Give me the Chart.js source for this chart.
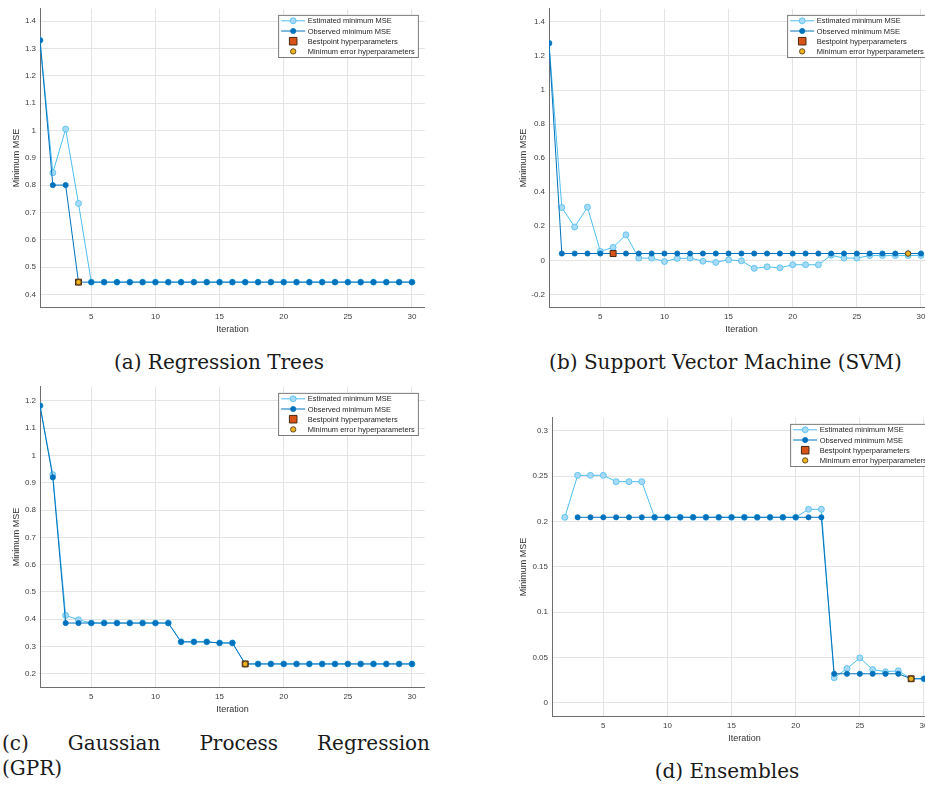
<!DOCTYPE html>
<html>
<head>
<meta charset="utf-8">
<script src="https://cdn.jsdelivr.net/npm/chart.js@4.4.0/dist/chart.umd.min.js"></script>
<style>
  html, body { margin: 0; padding: 0; background: #fff; overflow: hidden; width: 925px; height: 787px; }
  canvas { position: absolute; }
  .cap { position: absolute; font-family: 'DejaVu Serif', serif; font-size: 20px; line-height: 25px; color: #1a1a1a; white-space: nowrap; }
  .just { text-align: justify; text-align-last: justify; white-space: normal; }
</style>
</head>
<body>
<canvas id="treesChart" width="430" height="340" style="left:0px;top:0px"></canvas>
<canvas id="svmChart" width="430" height="340" style="left:509px;top:0px"></canvas>
<canvas id="gprChart" width="430" height="342" style="left:0px;top:378px"></canvas>
<canvas id="ensChart" width="430" height="340" style="left:512px;top:409px"></canvas>

<div class="cap" style="left:0px;top:350px;width:438px;text-align:center">(a) Regression Trees</div>
<div class="cap" style="left:500px;top:350px;width:451px;text-align:center">(b) Support Vector Machine (SVM)</div>
<div class="cap just" style="left:2px;top:731px;width:428px">(c) Gaussian Process Regression</div>
<div class="cap" style="left:2px;top:756px">(GPR)</div>
<div class="cap" style="left:577px;top:759px;width:300px;text-align:center">(d) Ensembles</div>

<script>
// iterations of the optimisation run
const iterations = [1, 2, 3, 4, 5, 6, 7, 8, 9, 10, 11, 12, 13, 14, 15, 16, 17, 18, 19, 20, 21, 22, 23, 24, 25, 26, 27, 28, 29, 30];
const xTicks = [5, 10, 15, 20, 25, 30];

// (a) regression trees
const treesEstimated = [1.33, 0.845, 1.005, 0.733, 0.445, 0.445, 0.445, 0.445, 0.445, 0.445, 0.445, 0.445, 0.445, 0.445, 0.445,
  0.445, 0.445, 0.445, 0.445, 0.445, 0.445, 0.445, 0.445, 0.445, 0.445, 0.445, 0.445, 0.445, 0.445, 0.445];
const treesObserved = [1.33, 0.80, 0.80, 0.445, 0.445, 0.445, 0.445, 0.445, 0.445, 0.445, 0.445, 0.445, 0.445, 0.445, 0.445,
  0.445, 0.445, 0.445, 0.445, 0.445, 0.445, 0.445, 0.445, 0.445, 0.445, 0.445, 0.445, 0.445, 0.445, 0.445];
const treesBestIter = 4;
const treesMinErrIter = 4;
const treesTicks = [0.4, 0.5, 0.6, 0.7, 0.8, 0.9, 1, 1.1, 1.2, 1.3, 1.4];

// (b) SVM
const svmEstimated = [1.275, 0.31, 0.196, 0.312, 0.053, 0.076, 0.15, 0.013, 0.013, -0.007, 0.011, 0.013, -0.005, -0.012, 0.003,
  -0.003, -0.047, -0.038, -0.044, -0.026, -0.026, -0.026, 0.03, 0.013, 0.013, 0.028, 0.028, 0.028, 0.028, 0.029];
const svmObserved = [1.275, 0.04, 0.04, 0.04, 0.04, 0.04, 0.04, 0.04, 0.04, 0.04, 0.04, 0.04, 0.04, 0.04, 0.04,
  0.04, 0.04, 0.04, 0.04, 0.04, 0.04, 0.04, 0.04, 0.04, 0.04, 0.04, 0.04, 0.04, 0.04, 0.04];
const svmBestIter = 6;
const svmMinErrIter = 29;
const svmTicks = [-0.2, 0, 0.2, 0.4, 0.6, 0.8, 1, 1.2, 1.4];

// (c) GPR
const gprEstimated = [1.183, 0.93, 0.414, 0.398, 0.386, 0.386, 0.386, 0.386, 0.386, 0.386, 0.386, 0.317, 0.317, 0.317, 0.313,
  0.313, 0.236, 0.236, 0.236, 0.236, 0.236, 0.236, 0.236, 0.236, 0.236, 0.236, 0.236, 0.236, 0.236, 0.236];
const gprObserved = [1.183, 0.92, 0.386, 0.386, 0.386, 0.386, 0.386, 0.386, 0.386, 0.386, 0.386, 0.317, 0.317, 0.317, 0.313,
  0.313, 0.236, 0.236, 0.236, 0.236, 0.236, 0.236, 0.236, 0.236, 0.236, 0.236, 0.236, 0.236, 0.236, 0.236];
const gprBestIter = 17;
const gprMinErrIter = 17;
const gprTicks = [0.2, 0.3, 0.4, 0.5, 0.6, 0.7, 0.8, 0.9, 1, 1.1, 1.2];

// (d) ensembles
const ensEstimated = [null, 0.2047, 0.251, 0.251, 0.251, 0.244, 0.244, 0.244, 0.2047, 0.2047, 0.2047, 0.2047, 0.2047, 0.2047, 0.2047,
  0.2047, 0.2047, 0.2047, 0.2047, 0.2047, 0.2135, 0.2135, 0.0276, 0.0378, 0.0495, 0.0367, 0.0342, 0.0353, 0.0265, 0.0265];
const ensObserved = [null, null, 0.2047, 0.2047, 0.2047, 0.2047, 0.2047, 0.2047, 0.2047, 0.2047, 0.2047, 0.2047, 0.2047, 0.2047, 0.2047,
  0.2047, 0.2047, 0.2047, 0.2047, 0.2047, 0.2047, 0.2047, 0.032, 0.032, 0.032, 0.032, 0.032, 0.032, 0.0265, 0.0265];
const ensBestIter = 29;
const ensMinErrIter = 29;
const ensTicks = [0, 0.05, 0.1, 0.15, 0.2, 0.25, 0.3];

const FONT = "'Liberation Sans', Arial, Helvetica, sans-serif";
const LIGHT = 'rgb(77,190,238)';
const LIGHT_FILL = 'rgb(166,218,246)';
const DARK = 'rgb(0,114,189)';

// legend box drawn inside the top-right corner of the axes
const boxLegend = {
  id: 'boxLegend',
  afterDatasetsDraw(chart) {
    const { ctx, chartArea } = chart;
    const sets = chart.data.datasets;
    ctx.save();
    ctx.font = '7.5px ' + FONT;
    const textW = Math.max(...sets.map(d => ctx.measureText(d.label).width));
    const w = 29.5 + textW + 3;
    const rowH = 10.2;
    const h = rowH * sets.length + 1.5;
    const x0 = chartArea.right - 7 - w;
    const y0 = chartArea.top + 6;
    ctx.fillStyle = '#fff';
    ctx.fillRect(x0, y0, w, h);
    ctx.strokeStyle = '#5a5a5a';
    ctx.lineWidth = 0.8;
    ctx.strokeRect(x0 + 0.5, y0 + 0.5, w, h);
    sets.forEach((d, i) => {
      const cy = y0 + 6 + i * rowH;
      const mx = x0 + 15;
      if (d.showLine !== false) {
        ctx.strokeStyle = d.borderColor;
        ctx.lineWidth = 1;
        ctx.beginPath();
        ctx.moveTo(x0 + 3, cy);
        ctx.lineTo(x0 + 27, cy);
        ctx.stroke();
      }
      ctx.fillStyle = d.pointBackgroundColor;
      ctx.strokeStyle = d.pointBorderColor;
      ctx.lineWidth = d.pointBorderWidth;
      ctx.beginPath();
      if (d.pointStyle === 'rect') {
        const r = d.pointRadius * 0.9;
        ctx.rect(mx - r, cy - r, 2 * r, 2 * r);
      } else {
        ctx.arc(mx, cy, d.pointRadius, 0, Math.PI * 2);
      }
      ctx.fill();
      ctx.stroke();
      ctx.fillStyle = '#262626';
      ctx.textBaseline = 'middle';
      ctx.textAlign = 'left';
      ctx.fillText(d.label, x0 + 29.5, cy + 0.5);
    });
    ctx.restore();
  }
};

function fmt(v) {
  return String(Number(v.toFixed(3)));
}

function makePanel(id, est, obs, bestIter, minErrIter, yMin, yMax, yTicks, yTitleGap) {
  const toPoints = arr => iterations.map((it, i) => ({ x: it, y: arr[i] }));
  new Chart(document.getElementById(id), {
    type: 'line',
    data: {
      datasets: [
        {
          label: 'Estimated minimum MSE',
          data: toPoints(est),
          borderColor: LIGHT, borderWidth: 1,
          pointRadius: 3, pointBackgroundColor: LIGHT_FILL, pointBorderColor: LIGHT, pointBorderWidth: 0.8,
          order: 4
        },
        {
          label: 'Observed minimum MSE',
          data: toPoints(obs),
          borderColor: DARK, borderWidth: 1,
          pointRadius: 2.6, pointBackgroundColor: DARK, pointBorderColor: DARK, pointBorderWidth: 0.8,
          order: 3
        },
        {
          label: 'Bestpoint hyperparameters',
          data: [{ x: bestIter, y: obs[bestIter - 1] }],
          showLine: false, pointStyle: 'rect',
          pointRadius: 4.2, pointBackgroundColor: 'rgb(217,83,25)', pointBorderColor: 'rgb(70,40,20)', pointBorderWidth: 1,
          order: 2
        },
        {
          label: 'Minimum error hyperparameters',
          data: [{ x: minErrIter, y: obs[minErrIter - 1] }],
          showLine: false,
          pointRadius: 2.7, pointBackgroundColor: 'rgb(237,177,32)', pointBorderColor: 'rgb(70,50,20)', pointBorderWidth: 0.8,
          order: 1
        }
      ]
    },
    options: {
      responsive: false,
      animation: false,
      events: [],
      spanGaps: false,
      layout: { padding: { top: 5, right: 5, left: 0, bottom: 0 } },
      plugins: { legend: { display: false }, tooltip: { enabled: false } },
      scales: {
        x: {
          type: 'linear', min: 1, max: 31,
          afterBuildTicks: s => { s.ticks = xTicks.map(v => ({ value: v })); },
          afterFit: s => { s.height = 33; },
          grid: { color: '#e4e4e4', drawTicks: false },
          border: { color: '#6e6e6e' },
          ticks: { padding: 5, color: '#404040', font: { family: FONT, size: 8 }, maxRotation: 0 },
          title: { display: true, text: 'Iteration', color: '#333', font: { family: FONT, size: 9 }, padding: { top: 0, bottom: 5.5 } }
        },
        y: {
          type: 'linear', min: yMin, max: yMax,
          afterBuildTicks: s => { s.ticks = yTicks.map(v => ({ value: v })); },
          afterFit: s => { s.width = 40; },
          grid: { color: '#e4e4e4', drawTicks: false },
          border: { color: '#6e6e6e' },
          ticks: { padding: 4, color: '#404040', font: { family: FONT, size: 8 }, callback: v => fmt(v) },
          title: { display: true, text: 'Minimum MSE', color: '#333', font: { family: FONT, size: 9 }, padding: { top: 40 - yTitleGap - 5.4, bottom: 0 } }
        }
      }
    },
    plugins: [boxLegend]
  });
}

makePanel('treesChart', treesEstimated, treesObserved, treesBestIter, treesMinErrIter, 0.354, 1.445, treesTicks, 23.3);
makePanel('svmChart', svmEstimated, svmObserved, svmBestIter, svmMinErrIter, -0.274, 1.477, svmTicks, 25.7);
makePanel('gprChart', gprEstimated, gprObserved, gprBestIter, gprMinErrIter, 0.1515, 1.252, gprTicks, 23.3);
makePanel('ensChart', ensEstimated, ensObserved, ensBestIter, ensMinErrIter, -0.0146, 0.3145, ensTicks, 28.4);
</script>
</body>
</html>
